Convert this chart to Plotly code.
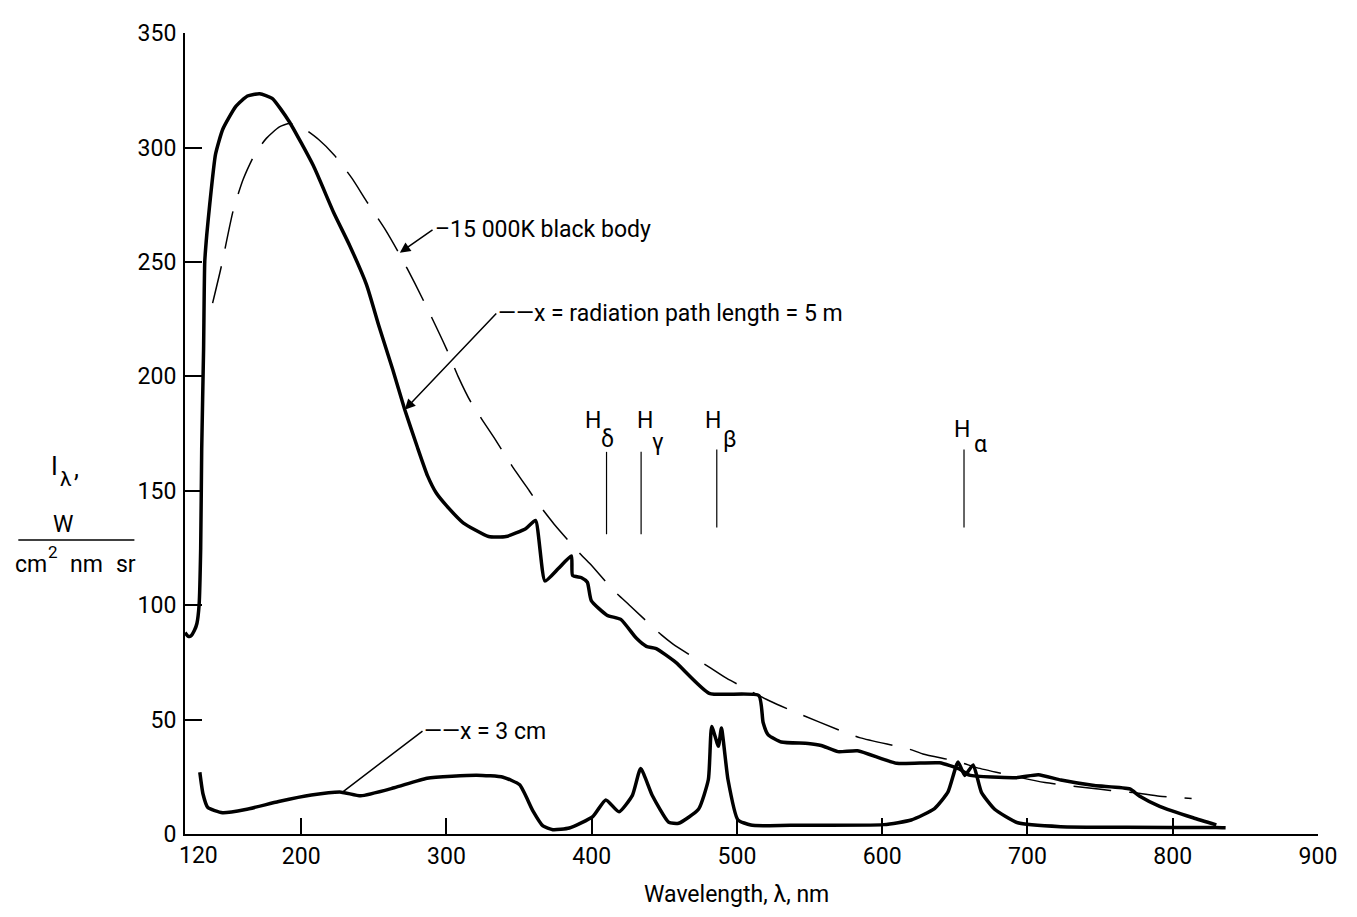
import plotly.graph_objects as go

# ---------------- data ----------------
# x = radiation path length = 5 m
wl_5m = [120, 122, 124, 126.5, 128.2, 129.7, 130.8, 131.5, 132.8, 133.6, 135, 137, 141, 146, 155,
         163, 171.4, 180, 191.6, 208.4, 222.4, 233.5, 245, 253.6, 263, 271.3, 280, 287, 293, 300,
         311.5, 329, 341, 354.5, 361.3, 367.8, 377, 386, 386.8, 393, 397, 399.7, 410.5, 420,
         430.8, 437.6, 444.4, 457.9, 480.9, 515, 518, 521.5, 530.5, 549, 558, 569.5, 583, 610,
         639.5, 653, 660, 692, 707.5, 723, 746, 770.5, 777, 791, 814, 830]
I_5m = [88, 86.5, 86.5, 89, 92, 100, 125, 168, 212, 250, 262, 275, 297, 308, 318,
        322.5, 323.5, 321.5, 311.5, 292, 271.5, 257, 240, 221.8, 203, 185.4, 169, 156.5, 149, 143.5,
        136, 130, 130, 133.4, 137, 110.6, 116, 121.5, 113, 112, 110, 102, 95.6, 93.8,
        85.5, 82, 81, 75, 61.5, 60.5, 48.7, 43.3, 40.2, 39.6, 38.7, 36, 36.4, 30.9,
        31.1, 28.4, 25.7, 24.6, 25.9, 23.6, 21.2, 19.7, 16.6, 12.1, 7.1, 4]

# x = 3 cm
wl_3cm = [130.2, 132.4, 135.7, 145.8, 161.7, 184.5, 207, 227.5, 241, 264, 286.7, 320.8, 339,
          350.4, 359.5, 366.4, 373.2, 384.6, 400.7, 409.7, 418.8, 428, 433.7, 441.7, 453,
          459.8, 473.5, 480.3, 482.6, 487.2, 489.3, 493.8, 500.6, 509.5, 518, 536.8, 601,
          620, 636, 645.3, 652.2, 656.8, 662.6, 668.3, 677.4, 693.3, 722.8, 768.3, 829.6, 836.4]
I_3cm = [27, 17.5, 11.6, 9.3, 10.7, 14.2, 17, 18.3, 16.7, 20.2, 24.4, 25.7, 24.8,
         21.5, 10.1, 3.5, 1.9, 2.6, 7.6, 14.9, 9.7, 16.9, 28.6, 16.8, 5.1,
         4.7, 10.8, 23.8, 47, 38.4, 46.3, 23.8, 6.2, 3.9, 3.6, 3.8, 4.1,
         6.1, 11.1, 18.4, 31.5, 25.6, 30.2, 18.2, 10.8, 4.9, 3.2, 2.9, 2.8, 2.7]

# 15 000 K black body
wl_bb = [139, 145, 153, 160, 168, 176, 185, 192, 200, 212, 223, 235, 245, 258, 268, 278, 290,
         300, 308, 317, 333, 345, 357, 363, 374, 392, 399, 415, 426, 448, 456, 482, 493, 523,
         541, 572, 585, 619, 628, 653, 665, 689, 712, 744, 757, 774, 791, 813]
I_bb = [232, 248, 272, 286, 297, 304, 309, 310.5, 309, 303.5, 296.5, 286.5, 276.5, 264, 253,
        241, 225.5, 212, 200, 188.5, 173, 161, 150, 144.5, 135.5, 122.5, 118, 106.5, 100, 87,
        83, 72.5, 68, 58, 53, 45, 42, 37, 35, 31.5, 29, 25.5, 22.5, 20, 19, 18, 16.5, 15.5]

# hydrogen lines
h_names = ["δ", "γ", "β", "α"]
h_wl = [410.2, 434.0, 486.1, 656.3]
h_low = [131, 131, 134, 134]
h_high = [167, 167, 168, 168]
h_label_x = [400.9, 436.4, 483.4, 655.2]
h_label_y = [180.5, 180.5, 180.5, 176.6]
h_sub_x = [411, 445.8, 494.9, 667.7]
h_sub_y = [172.5, 171.2, 172.5, 170.2]

x_ticks = [200, 300, 400, 500, 600, 700, 800, 900]
y_ticks = [0, 50, 100, 150, 200, 250, 300, 350]

# ---------------- figure ----------------
FONT = "Roboto, Liberation Sans, sans-serif"
OFF = 8                     # page body margin of the html page
W, H = 1357 - 2 * OFF, 917 - 2 * OFF
X0, X1 = 185, 1327          # screen x of 120 nm and 900 nm
Y0, Y1 = 834, 22            # screen y of 0 and 350
L, R = X0 - OFF, W - (X1 - OFF)
T, B = Y1 - OFF, H - (Y0 - OFF)
PW, PH = W - L - R, H - T - B


def px(xs):
    """screen pixel x (of the reference) -> paper fraction"""
    return (xs - X0) / PW


def py(ys):
    return (Y0 - ys) / PH


fig = go.Figure()
fig.add_trace(go.Scatter(x=wl_bb, y=I_bb, mode="lines",
                         line=dict(color="black", width=1.5, dash="38px,18px", shape="spline", smoothing=0.6),
                         showlegend=False, hoverinfo="skip"))
fig.add_trace(go.Scatter(x=wl_5m, y=I_5m, mode="lines",
                         line=dict(color="black", width=3.5, shape="spline", smoothing=0.5),
                         showlegend=False, hoverinfo="skip"))
fig.add_trace(go.Scatter(x=wl_3cm, y=I_3cm, mode="lines",
                         line=dict(color="black", width=3.5, shape="spline", smoothing=0.5),
                         showlegend=False, hoverinfo="skip"))

shapes = []
for wl, lo, hi in zip(h_wl, h_low, h_high):
    shapes.append(dict(type="line", xref="x", yref="y", x0=wl, x1=wl, y0=lo, y1=hi,
                       line=dict(color="black", width=1.2)))
# fraction bar of y-axis label
shapes.append(dict(type="line", xref="paper", yref="paper", x0=px(17), x1=px(134), y0=py(536), y1=py(536),
                   line=dict(color="black", width=1.5)))

FS = 23
tf = dict(family=FONT, size=FS, color="black")
ann = []
# labelled leaders: the text starts with the short horizontal leader, the arrow goes to the curve
ann.append(dict(x=267.9, y=254, ax=290.4, ay=264, xref="x", yref="y", axref="x", ayref="y",
                text="–15 000K black body", xanchor="left", yanchor="middle", font=tf,
                showarrow=True, arrowhead=2, arrowsize=1.4, arrowwidth=1.5, arrowcolor="black"))
ann.append(dict(x=271.3, y=185.4, ax=334.3, ay=227.5, xref="x", yref="y", axref="x", ayref="y",
                text="——x = radiation path length = 5 m", xanchor="left", yanchor="middle", font=tf,
                showarrow=True, arrowhead=2, arrowsize=1.4, arrowwidth=1.5, arrowcolor="black"))
ann.append(dict(x=228, y=18.1, ax=283.5, ay=45, xref="x", yref="y", axref="x", ayref="y",
                text="——x = 3 cm", xanchor="left", yanchor="middle", font=tf,
                showarrow=True, arrowhead=0, arrowwidth=1.5, arrowcolor="black"))
for name, hx, hy, sx, sy in zip(h_names, h_label_x, h_label_y, h_sub_x, h_sub_y):
    ann.append(dict(x=hx, y=hy, xref="x", yref="y", text="H", showarrow=False, font=tf,
                    xanchor="center", yanchor="middle"))
    ann.append(dict(x=sx, y=sy, xref="x", yref="y", text=name, showarrow=False,
                    xanchor="center", yanchor="middle", font=dict(family=FONT, size=23, color="black")))


def paper_text(txt, xs, ys, size=FS):
    ann.append(dict(x=px(xs), y=py(ys), xref="paper", yref="paper", text=txt, showarrow=False,
                    xanchor="center", yanchor="middle", font=dict(family=FONT, size=size, color="black")))


# the "120" tick label sits right of the axis corner
paper_text("120", 199, 856)
# axis titles
paper_text("Wavelength, λ, nm", 741, 895)
paper_text("I", 53, 461, 25)
paper_text("λ", 65, 474, 21)
paper_text(",", 76, 463, 25)
paper_text("W", 62, 520)
paper_text("cm", 30, 561)
paper_text("2", 52, 548, 17)
paper_text("nm", 86, 561)
paper_text("sr", 126, 561)

fig.update_layout(
    width=W, height=H,
    margin=dict(l=L, r=R, t=T, b=B),
    paper_bgcolor="white", plot_bgcolor="white",
    font=dict(family=FONT, size=FS, color="black"),
    shapes=shapes, annotations=ann,
    xaxis=dict(range=[120, 900], tickvals=x_ticks, ticks="inside", ticklen=16,
               tickwidth=1.5, tickcolor="black", showline=True, linewidth=2, linecolor="black",
               showgrid=False, zeroline=False, tickfont=tf, ticklabelstandoff=0),
    yaxis=dict(range=[0, 350.05], tickvals=y_ticks, ticks="inside", ticklen=17,
               tickwidth=1.5, tickcolor="black", showline=True, linewidth=2, linecolor="black",
               showgrid=False, zeroline=False, tickfont=tf, ticklabelstandoff=2),
)

fig.write_html("out.html")
